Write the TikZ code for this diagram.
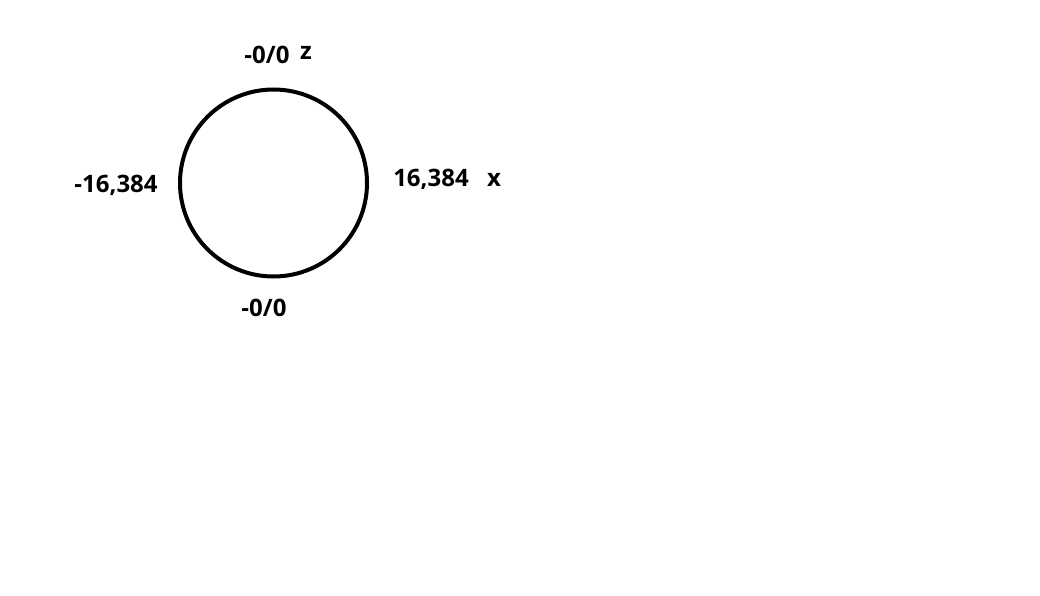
\documentclass[tikz,border=0pt]{standalone}
\usepackage{fontspec}
\setmainfont{Open Sans}
\tikzset{
	lbl/.style={font=\fontsize{24}{28}\selectfont\bfseries, inner sep=0pt, anchor=base},
}
\begin{document}
\begin{tikzpicture}[x=1pt,y=-1pt]
	\useasboundingbox[fill=white] (0,0) rectangle (1040,596);
	
	\draw[line width=4pt] (273.5,183) circle (93.5);
	
	\node[lbl] (top) at (267,64) {-0/0};
	\node[lbl] (zaxis) at (306,60) {z};
	\node[lbl] (left) at (116,193) {-16,384};
	\node[lbl] (right) at (431,186) {16,384};
	\node[lbl] (xaxis) at (494,186) {x};
	\node[lbl] (bottom) at (264,316) {-0/0};
\end{tikzpicture}
\end{document}
